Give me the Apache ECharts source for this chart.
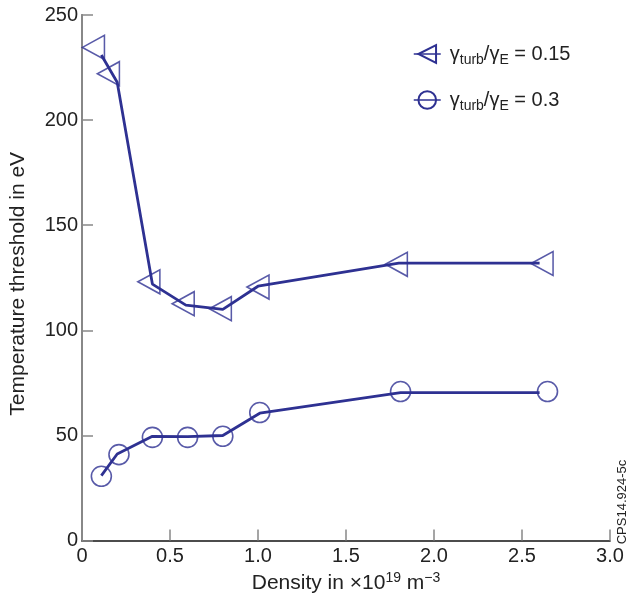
<!DOCTYPE html>
<html>
<head>
<meta charset="utf-8">
<script src="https://cdn.jsdelivr.net/npm/echarts@6/dist/echarts.min.js"></script>
<style>
  html, body { margin: 0; padding: 0; background: #fff; }
  #chart { width: 627px; height: 599px; }
</style>
</head>
<body>
<div id="chart"></div>
<script>
// Temperature threshold vs density for two turbulence ratios.
// Line vertices and marker centres are kept separately (markers sit slightly off the line).
const xTicks = [0, 0.5, 1.0, 1.5, 2.0, 2.5, 3.0];
const yTicks = [0, 50, 100, 150, 200, 250];

const seriesNames = ['γturb/γE = 0.15', 'γturb/γE = 0.3'];

// γturb/γE = 0.15
const lowRatioLineX = [0.11, 0.2, 0.4, 0.59, 0.8, 1.0, 1.8, 2.6];
const lowRatioLineY = [231, 218, 122, 112, 110, 121, 132, 132];
const lowRatioMarkX = [0.065, 0.15, 0.38, 0.575, 0.786, 1.0, 1.786, 2.614];
const lowRatioMarkY = [234.6, 222.1, 123.1, 112.7, 110.3, 120.6, 131.4, 131.8];

// γturb/γE = 0.3
const highRatioLineX = [0.11, 0.2, 0.4, 0.6, 0.8, 1.01, 1.81, 2.6];
const highRatioLineY = [30.9, 41.2, 49.6, 49.5, 50.0, 60.6, 70.4, 70.4];
const highRatioMarkX = [0.11, 0.21, 0.4, 0.6, 0.8, 1.01, 1.81, 2.645];
const highRatioMarkY = [30.6, 40.9, 49.1, 49.1, 49.6, 60.9, 70.9, 70.9];

const BLUE = '#2e3192';
const FONT = "'Liberation Sans', Arial, sans-serif";

function pairs(xs, ys) {
  return xs.map((x, i) => [x, ys[i]]);
}

const chart = echarts.init(document.getElementById('chart'), null, { renderer: 'canvas' });

const legendRich = {
  g: { fontSize: 20, fontFamily: FONT, color: '#222', lineHeight: 26, verticalAlign: 'middle' },
  s: { fontSize: 14, fontFamily: FONT, color: '#222', lineHeight: 14, verticalAlign: 'bottom' }
};

chart.setOption({
  animation: false,
  backgroundColor: '#fff',
  grid: { left: 81, right: 17, top: 15, bottom: 56, containLabel: false },
  legend: {
    data: seriesNames,
    orient: 'vertical',
    left: 413,
    top: 44,
    padding: 0,
    itemWidth: 27,
    itemHeight: 22,
    itemGap: 23,
    lineStyle: { width: 1.5 },
    textStyle: { fontSize: 20, fontFamily: FONT, color: '#222', padding: [0, 0, 0, 4], rich: legendRich },
    formatter: function (name) {
      const val = name.split('= ')[1];
      return '{g|γ}{s|turb}{g|/γ}{s|E}{g| = ' + val + '}';
    },
    selectedMode: false
  },
  xAxis: [
    {
      type: 'value',
      min: xTicks[0],
      max: xTicks[xTicks.length - 1],
      interval: 0.5,
      name: '{t|Density in ×10}{sup|19}{t| m}{sup|−3}',
      nameLocation: 'middle',
      nameGap: 19,
      nameTextStyle: {
        rich: {
          t: { fontSize: 21, fontFamily: FONT, color: '#222', lineHeight: 24, verticalAlign: 'middle' },
          sup: { fontSize: 14, fontFamily: FONT, color: '#222', lineHeight: 14, verticalAlign: 'top' }
        }
      },
      axisLine: { show: true, lineStyle: { color: '#777', width: 1.5 } },
      axisTick: { show: true, inside: true, length: 11, lineStyle: { color: '#888', width: 1.5 } },
      axisLabel: {
        margin: 6,
        fontSize: 20,
        fontFamily: FONT,
        color: '#222',
        formatter: v => (v === 0 ? '0' : v.toFixed(1))
      },
      splitLine: { show: false }
    },
    {
      type: 'value',
      position: 'top',
      min: 0,
      max: 3,
      axisLine: { show: true, lineStyle: { color: '#333', width: 1.5 } },
      axisTick: { show: false },
      axisLabel: { show: false },
      splitLine: { show: false }
    }
  ],
  yAxis: [
    {
      type: 'value',
      min: yTicks[0],
      max: yTicks[yTicks.length - 1],
      interval: 50,
      name: 'Temperature threshold in eV',
      nameLocation: 'middle',
      nameGap: 53,
      nameTextStyle: { fontSize: 21, fontFamily: FONT, color: '#222', padding: [0, 12, 0, 0] },
      axisLine: { show: true, lineStyle: { color: '#222', width: 1.5 } },
      axisTick: { show: true, inside: true, length: 11, lineStyle: { color: '#888', width: 1.5 } },
      axisLabel: { margin: 4, fontSize: 20, fontFamily: FONT, color: '#222' },
      splitLine: { show: false }
    },
    {
      type: 'value',
      position: 'right',
      min: 0,
      max: 250,
      axisLine: { show: true, lineStyle: { color: '#888', width: 2 } },
      axisTick: { show: false },
      axisLabel: { show: false },
      splitLine: { show: false }
    }
  ],
  series: [
    {
      name: seriesNames[0],
      type: 'line',
      data: pairs(lowRatioLineX, lowRatioLineY),
      showSymbol: false,
      symbol: 'triangle',
      symbolRotate: 90,
      lineStyle: { color: BLUE, width: 2.8 },
      itemStyle: { color: 'rgba(255,255,255,0)', borderColor: BLUE, borderWidth: 1.5 },
      z: 2
    },
    {
      name: 'lowRatioMarks',
      type: 'scatter',
      data: pairs(lowRatioMarkX, lowRatioMarkY),
      symbol: 'triangle',
      symbolSize: [24, 22],
      symbolRotate: 90,
      itemStyle: { color: 'rgba(255,255,255,0)', borderColor: BLUE, borderWidth: 1.6 },
      z: 3
    },
    {
      name: seriesNames[1],
      type: 'line',
      data: pairs(highRatioLineX, highRatioLineY),
      showSymbol: false,
      symbol: 'circle',
      lineStyle: { color: BLUE, width: 2.8 },
      itemStyle: { color: 'rgba(255,255,255,0)', borderColor: BLUE, borderWidth: 1.5 },
      z: 2
    },
    {
      name: 'highRatioMarks',
      type: 'scatter',
      data: pairs(highRatioMarkX, highRatioMarkY),
      symbol: 'circle',
      symbolSize: 20,
      itemStyle: { color: 'rgba(255,255,255,0)', borderColor: BLUE, borderWidth: 1.6 },
      z: 3
    }
  ],
  graphic: [
    {
      type: 'text',
      x: 622,
      y: 502,
      rotation: Math.PI / 2,
      style: {
        text: 'CPS14.924-5c',
        fontSize: 13,
        fontFamily: FONT,
        fill: '#222',
        align: 'center',
        verticalAlign: 'middle'
      }
    }
  ]
});
</script>
</body>
</html>
